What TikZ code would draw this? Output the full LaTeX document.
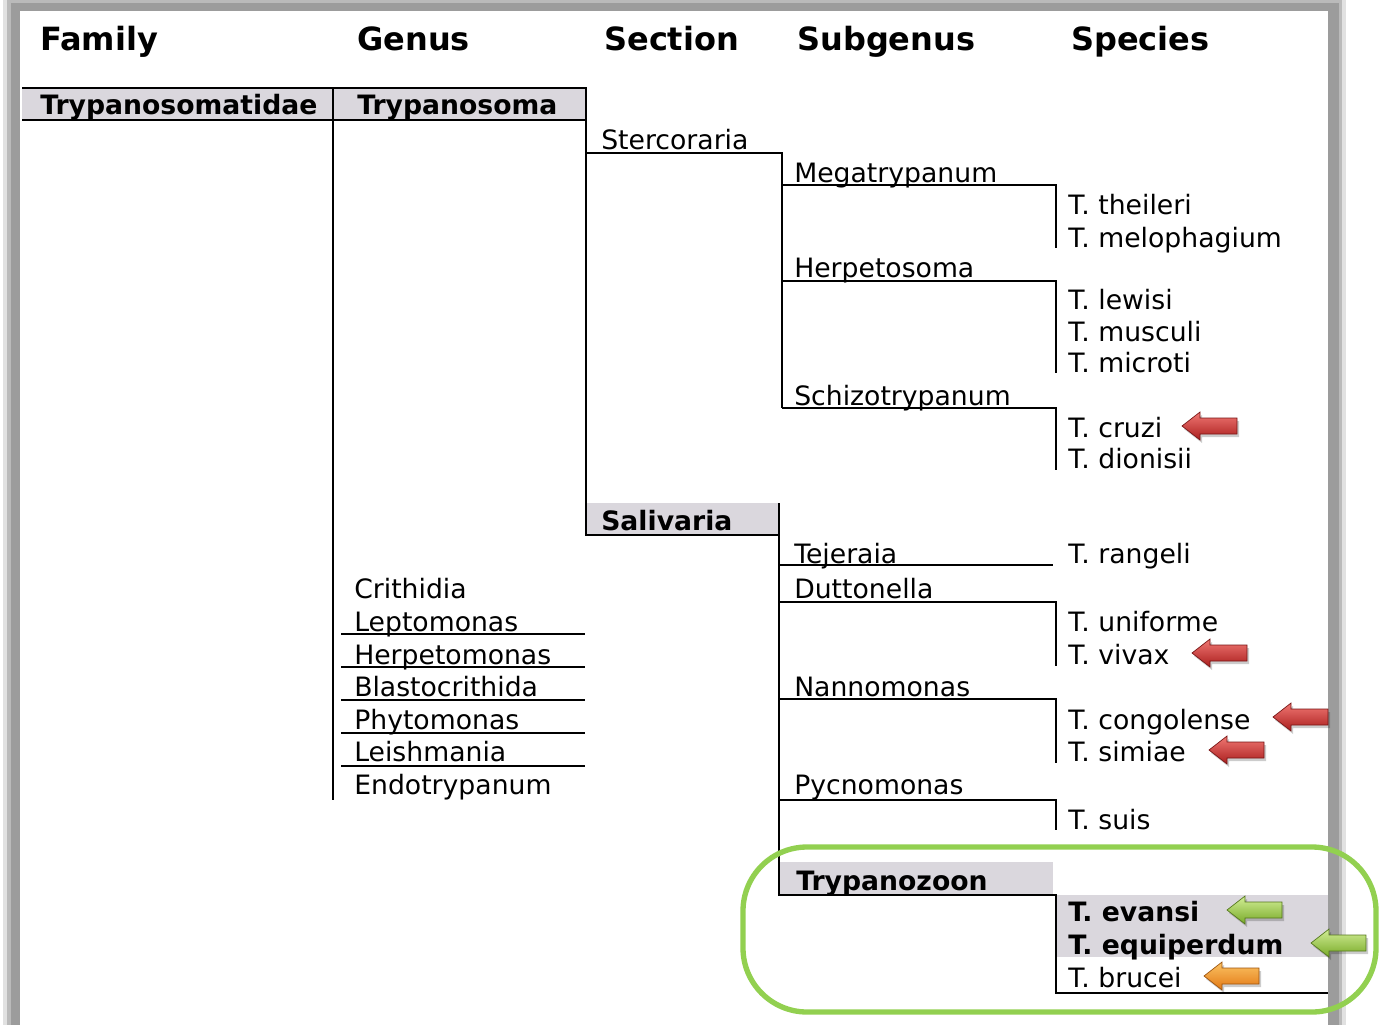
\documentclass[tikz,border=0pt]{standalone}
\usepackage{fontspec}
\setmainfont{DejaVu Sans}
\usetikzlibrary{calc}

\definecolor{bandgray}{RGB}{218,215,221}
\definecolor{shadowgray}{RGB}{156,156,156}
\definecolor{ringgreen}{RGB}{146,208,80}
\definecolor{redtop}{RGB}{240,120,115}
\definecolor{redbot}{RGB}{170,30,30}
\definecolor{greentop}{RGB}{210,238,150}
\definecolor{greenbot}{RGB}{120,170,40}
\definecolor{orangetop}{RGB}{252,195,100}
\definecolor{orangebot}{RGB}{225,120,20}

\tikzset{
  txt/.style={anchor=base west,inner sep=0pt,font=\fontsize{20}{24}\selectfont},
  bold/.style={txt,font=\fontsize{20}{24}\selectfont\bfseries},
  head/.style={txt,font=\fontsize{24}{28}\selectfont\bfseries},
  tree/.style={line width=1.5pt},
  pics/flag/.style={code={
    \fill[black,opacity=0.2] (2,3) -- ++(18,-14) -- ++(0,6) -- ++(37,0) -- ++(0,16) -- ++(-37,0) -- ++(0,6) -- cycle;
    \shade[top color=#1top,bottom color=#1bot,draw=#1bot!70!black,line width=0.5pt]
      (0,0) -- ++(18,-14) -- ++(0,6) -- ++(37,0) -- ++(0,16) -- ++(-37,0) -- ++(0,6) -- cycle;
  }}
}

\begin{document}
\begin{tikzpicture}[x=0.75pt,y=-0.75pt]
    \useasboundingbox (0,0) rectangle (1381,1025);
    % page and its shadow
    \fill[shadowgray!30] (3,0) rectangle (1346,1025);
    \fill[shadowgray!70] (7,0) rectangle (1342,1025);
    \fill[shadowgray] (11,3) rectangle (1339,1025);
    \fill[white] (20,11) rectangle (1328,1025);

    % grey bands
    \fill[bandgray] (22,88) rectangle (586,120);
    \fill[bandgray] (586,503) rectangle (779,535);
    \fill[bandgray] (779,862) rectangle (1053,895);
    \fill[bandgray] (1056,895) rectangle (1328,957);

    \node[head] (h-fam) at (40,50) {Family};
    \node[head] (h-gen) at (357,50) {Genus};
    \node[head] (h-sec) at (604,50) {Section};
    \node[head] (h-sub) at (797,50) {Subgenus};
    \node[head] (h-spe) at (1071,50) {Species};

    % columns
    \coordinate (F0) at (22,88);
    \coordinate (F1) at (22,120);
    \coordinate (G0) at (333,88);
    \coordinate (G1) at (333,800);
    \coordinate (S0) at (586,88);
    \coordinate (S1) at (586,535);
    \coordinate (P) at (1056,0);
    \coordinate (E) at (1328,0);
    \draw[tree] (F0) -- (S0) -- (S1) -- (779,535);
    \draw[tree] (F1) -- (F1 -| S0);
    \draw[tree] (G0) -- (G1);

    % Stercoraria
    \coordinate (ST) at (586,153);
    \coordinate (U0) at (782,153);
    \coordinate (MG) at (782,185);
    \coordinate (HP) at (782,281);
    \coordinate (SC) at (782,408);
    \draw[tree] (ST) -- (U0) -- (SC);
    \draw[tree] (MG) -- (MG -| P) -- ++(0,63);
    \draw[tree] (HP) -- (HP -| P) -- ++(0,92);
    \draw[tree] (SC) -- (SC -| P) -- ++(0,62);

    % Salivaria
    \coordinate (V0) at (779,503);
    \coordinate (TJ) at (779,565);
    \coordinate (DT) at (779,602);
    \coordinate (NN) at (779,699);
    \coordinate (PY) at (779,800);
    \coordinate (TZ) at (779,895);
    \draw[tree] (V0) -- (TZ) -- (TZ -| P) -- ++(0,98) -- (E |- 0,993);
    \draw[tree] (TJ) -- (1053,565);
    \draw[tree] (DT) -- (DT -| P) -- ++(0,64);
    \draw[tree] (NN) -- (NN -| P) -- ++(0,64);
    \draw[tree] (PY) -- (PY -| P) -- ++(0,30);

    % genus rules
    \draw[tree] (341,634) -- (585,634);
    \draw[tree] (341,667) -- (585,667);
    \draw[tree] (341,700) -- (585,700);
    \draw[tree] (341,733) -- (585,733);
    \draw[tree] (341,766) -- (585,766);

    \node[bold] (fam) at (40,114) {Trypanosomatidae};
    \node[bold] (gen) at (357,114) {Trypanosoma};
    \node[txt] (crit) at (354,598) {Crithidia};
    \node[txt] (lept) at (354,631) {Leptomonas};
    \node[txt] (herm) at (354,664) {Herpetomonas};
    \node[txt] (blas) at (354,696) {Blastocrithida};
    \node[txt] (phyt) at (354,729) {Phytomonas};
    \node[txt] (leis) at (354,761) {Leishmania};
    \node[txt] (endo) at (354,794) {Endotrypanum};

    \node[txt] (ster) at (601,149) {Stercoraria};
    \node[bold] (sal) at (601,530) {Salivaria};

    \node[txt] (meg) at (794,182) {Megatrypanum};
    \node[txt] (her) at (794,277) {Herpetosoma};
    \node[txt] (sch) at (794,405) {Schizotrypanum};
    \node[txt] (tej) at (794,563) {Tejeraia};
    \node[txt] (dut) at (794,598) {Duttonella};
    \node[txt] (nan) at (794,696) {Nannomonas};
    \node[txt] (pyc) at (794,794) {Pycnomonas};
    \node[bold] (zoo) at (796,890) {Trypanozoon};

    \node[txt] (the) at (1068,214) {T. theileri};
    \node[txt] (mel) at (1068,247) {T. melophagium};
    \node[txt] (lew) at (1068,309) {T. lewisi};
    \node[txt] (mus) at (1068,341) {T. musculi};
    \node[txt] (mic) at (1068,372) {T. microti};
    \node[txt] (cru) at (1068,437) {T. cruzi};
    \node[txt] (dio) at (1068,468) {T. dionisii};
    \node[txt] (ran) at (1068,563) {T. rangeli};
    \node[txt] (uni) at (1068,631) {T. uniforme};
    \node[txt] (viv) at (1068,664) {T. vivax};
    \node[txt] (con) at (1068,729) {T. congolense};
    \node[txt] (sim) at (1068,761) {T. simiae};
    \node[txt] (sui) at (1068,829) {T. suis};
    \node[bold] (eva) at (1068,921) {T. evansi};
    \node[bold] (equ) at (1068,954) {T. equiperdum};
    \node[txt] (bru) at (1068,987) {T. brucei};

    \draw[ringgreen,line width=4pt,rounded corners=48pt] (743,847) rectangle (1376,1012);

    \pic at (1182,426) {flag=red};
    \pic at (1192,653) {flag=red};
    \pic at (1273,717) {flag=red};
    \pic at (1209,750) {flag=red};
    \pic at (1227,910) {flag=green};
    \pic at (1311,943) {flag=green};
    \pic at (1204,976) {flag=orange};
\end{tikzpicture}
\end{document}
